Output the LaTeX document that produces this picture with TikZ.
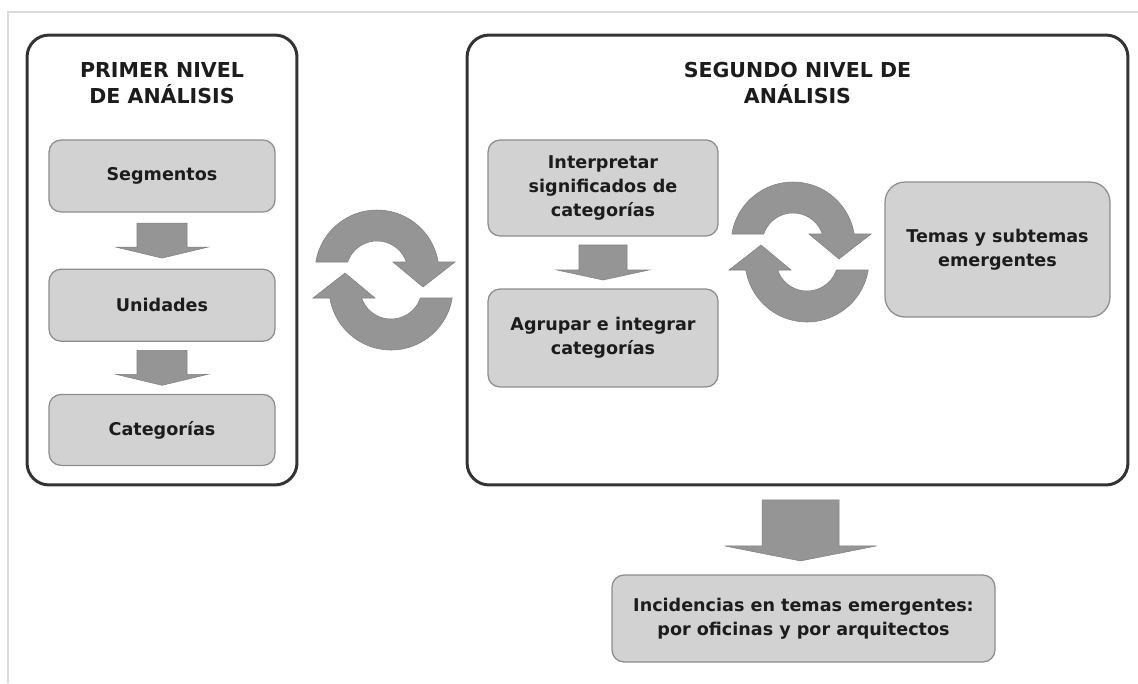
\documentclass[tikz,border=0pt]{standalone}
\usepackage{fontspec}
\setmainfont{DejaVu Sans}
\usetikzlibrary{positioning,calc}

\definecolor{cajagris}{HTML}{D2D2D2}
\definecolor{bordegris}{HTML}{8C8C8C}
\definecolor{flechagris}{HTML}{959595}
\definecolor{marcogris}{HTML}{DADADA}
\definecolor{tinta}{HTML}{1C1C1C}

\tikzset{
  nivel/.style={draw=black!80, line width=1.7pt, rounded corners=0.44cm, fill=white},
  titulo/.style={align=center, font=\fontsize{11.7}{14.8}\selectfont\bfseries, text=tinta},
  caja/.style={draw=bordegris, fill=cajagris, line width=0.7pt, rounded corners=0.24cm,
    align=center, font=\fontsize{10}{13.8}\selectfont\bfseries, text=tinta, inner sep=2pt},
  flecha/.style={fill=flechagris, draw=flechagris!85!black, line width=0.3pt},
  pics/bajada/.style n args={4}{code={
    \filldraw[flecha] (-#1,{(#2+#4)/2}) -- (#1,{(#2+#4)/2}) -- (#1,{(#4-#2)/2})
      -- (#3,{(#4-#2)/2}) -- (0,{-(#2+#4)/2}) -- (-#3,{(#4-#2)/2}) -- (-#1,{(#4-#2)/2}) -- cycle;
  }},
  pics/ciclo/.style={code={
    \foreach \giro in {0,180}
      \filldraw[flecha, rotate=\giro] (-68.19,18) arc[start angle=170.72, end angle=9.28, radius=62]
        -- (71,18) -- (39,-7) -- (9,18) -- (22.34,18)
        arc[start angle=18.82, end angle=161.18, radius=31] -- cycle;
  }}
}

\begin{document}
\begin{tikzpicture}[x=0.02cm, y=0.02cm]
\useasboundingbox (0,0) rectangle (1138,-683);
% marco
\draw[marcogris, line width=0.04cm] (8,-683) -- (8,-12) -- (1138,-12);

% primer nivel
\node[nivel, minimum width=5.4cm, minimum height=9cm] (n1) at (162,-260) {};
\node[titulo] (t1) at (162,-83) {PRIMER NIVEL\\DE ANÁLISIS};
\node[caja, minimum width=4.52cm, minimum height=1.44cm] (seg) at (162,-176) {Segmentos};
\node[caja, minimum width=4.52cm, minimum height=1.44cm, below=1.12cm of seg] (uni) {Unidades};
\node[caja, minimum width=4.52cm, minimum height=1.42cm, below=1.04cm of uni] (cat) {Categorías};
\pic at ($(seg.south)!0.5!(uni.north)$) {bajada={25}{24}{46}{11}};
\pic at ($(uni.south)!0.5!(cat.north)$) {bajada={25}{24}{46}{11}};

% ciclo entre niveles
\pic at (384,-280) {ciclo};

% segundo nivel
\node[nivel, minimum width=13.22cm, minimum height=9cm] (n2) at (797.5,-260) {};
\node[titulo] (t2) at (797.5,-83) {SEGUNDO NIVEL DE\\ANÁLISIS};
\node[caja, minimum width=4.6cm, minimum height=1.92cm] (int) at (603,-188)
  {Interpretar\\significados de\\categorías};
\node[caja, minimum width=4.6cm, minimum height=1.96cm] (agr) at (603,-338)
  {Agrupar e integrar\\categorías};
\pic at ($(int.south)!0.5!(agr.north)$) {bajada={24}{25}{46}{10}};
\pic at (800,-252) {ciclo};
\node[caja, minimum width=4.5cm, minimum height=2.7cm, rounded corners=0.4cm] (tem) at (997.5,-249.5)
  {Temas y subtemas\\emergentes};

% resultado
\node[caja, minimum width=7.66cm, minimum height=1.74cm] (inc) at (803.5,-618.5)
  {Incidencias en temas emergentes:\\por oficinas y por arquitectos};
\pic at ($(n2.south)!0.5!(inc.north)$) {bajada={38.5}{46}{76}{15}};
\end{tikzpicture}
\end{document}
